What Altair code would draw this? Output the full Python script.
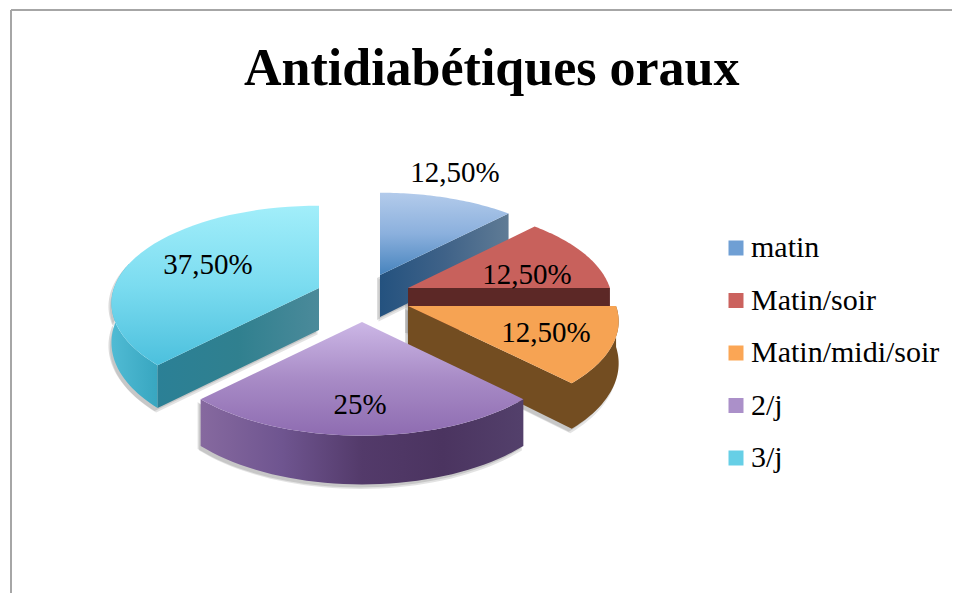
import math
import altair as alt
import pandas as pd

TITLE = "Antidiabétiques oraux"
categories = ["matin", "Matin/soir", "Matin/midi/soir", "2/j", "3/j"]
shares = [12.5, 12.5, 12.5, 25.0, 37.5]
labels = ["12,50%", "12,50%", "12,50%", "25%", "37,50%"]
legend_colors = ["#6f9fd4", "#cb625e", "#fba655", "#ab90c9", "#66cfe6"]

# 3D projection of the exploded pie
RX, RY, PERSP, DEPTH = 205.0, 98.0, 0.16, 42.0
APEX = {"matin": (380, 275), "Matin/soir": (408, 288), "Matin/midi/soir": (408, 306),
        "2/j": (362, 322), "3/j": (319, 288)}
WIDEN = {"matin": 1.0, "Matin/soir": 0.985, "Matin/midi/soir": 1.015, "2/j": 1.0, "3/j": 1.0}
RIM_DEPTH = {"matin": 45.0, "Matin/soir": 42.0, "Matin/midi/soir": 41.0, "2/j": 42.0, "3/j": 38.5}
LABEL_AT = {"matin": (455, 173), "Matin/soir": (527, 275), "Matin/midi/soir": (546, 333),
            "2/j": (360, 405), "3/j": (208, 265)}

bounds = {}
acc = 0.0
for c, s in zip(categories, shares):
    bounds[c] = (acc * 3.6, (acc + s) * 3.6)
    acc += s


def rim(cat, deg, down=False):
    cx, cy = APEX[cat]
    t = math.radians(deg)
    u, v = math.sin(t), -math.cos(t)
    k = 1 + PERSP * v
    return (cx + RX * WIDEN[cat] * u * k, cy + RY * v * k + (RIM_DEPTH[cat] * k if down else 0))


def arc(cat, a0, a1, down=False, n=40):
    return [rim(cat, a0 + (a1 - a0) * i / n, down) for i in range(n + 1)]


def top(cat):
    a0, a1 = bounds[cat]
    return [APEX[cat]] + arc(cat, a0, a1)


def cut(cat, deg):
    cx, cy = APEX[cat]
    return [(cx, cy), rim(cat, deg), rim(cat, deg, True), (cx, cy + DEPTH)]


def outer(cat, a0, a1):
    return arc(cat, a0, a1) + arc(cat, a1, a0, True)


def grad(stops, horizontal=False):
    n = len(stops) - 1
    return alt.Gradient(
        gradient="linear",
        x1=0, y1=0, x2=1 if horizontal else 0, y2=0 if horizontal else 1,
        stops=[alt.GradientStop(offset=i / n, color=c) for i, c in enumerate(stops)],
    )


W, H = 944, 585
X = alt.Scale(domain=[8, 8 + W], range=[0, W])
Y = alt.Scale(domain=[8, 8 + H], range=[0, H])


def poly(pts, fill, opacity=1.0, dx=0, dy=0):
    df = pd.DataFrame({"x": [p[0] + dx for p in pts], "y": [p[1] + dy for p in pts],
                       "i": range(len(pts))})
    return alt.Chart(df).mark_line(fill=fill, stroke=None, strokeWidth=0, fillOpacity=opacity,
                                   clip=False).encode(
        x=alt.X("x:Q", scale=X, axis=None),
        y=alt.Y("y:Q", scale=Y, axis=None),
        order="i:Q",
    )


def shadow(pts):
    return [poly(pts, "#808080", 0.28, -3, 3), poly(pts, "#808080", 0.22, -1.5, 4.5)]


matin, soir, midi, deux, trois = categories
m_cut = cut(matin, 45)
s_cut = cut(soir, 90)
o_side = [APEX[midi]] + arc(midi, 135, 90) + arc(midi, 90, 135, True) + [
    (APEX[midi][0], APEX[midi][1] + DEPTH)]
p_out = outer(deux, 135, 225)
t_cut = cut(trois, 225)
t_out = outer(trois, 225, 285)

layers = []
layers += [
    alt.Chart(pd.DataFrame({"k": [0]})).mark_rule(color="#a6a6a6", strokeWidth=2).encode(
        x=alt.value(3), y=alt.value(2), y2=alt.value(H)),
    alt.Chart(pd.DataFrame({"k": [0]})).mark_rule(color="#a6a6a6", strokeWidth=2).encode(
        y=alt.value(2), x=alt.value(3), x2=alt.value(W)),
]
layers += shadow(m_cut) + shadow(s_cut)
layers += [
    poly(m_cut, grad(["#24527f", "#3f6288", "#5f7b95"], True)),
    poly(top(matin), grad(["#b3cbeb", "#8bb0dd", "#4683bd"])),
    poly(s_cut, "#5c2826"),
    poly(top(soir), "#c8615c"),
]
layers += shadow(t_cut) + shadow(t_out) + [
    poly(t_out, grad(["#50bbd4", "#38a6c0"], True)),
    poly(t_cut, grad(["#2b8096", "#30808f", "#4b8a9a"], True)),
    poly(top(trois), grad(["#a2eefa", "#7bdcf0", "#4cc0dd"])),
]
layers += shadow(o_side) + [
    poly(o_side, "#734d21"),
    poly(top(midi), "#f6a353"),
]
layers += shadow(p_out) + [
    poly(p_out, grad(["#86699f", "#6f5590", "#533a6a", "#4b3460", "#53406b"], True)),
    poly(top(deux), grad(["#ccb7e6", "#a88bc6", "#8e6cb1"])),
]

label_df = pd.DataFrame({
    "x": [LABEL_AT[c][0] for c in categories],
    "y": [LABEL_AT[c][1] for c in categories],
    "t": labels,
})
layers.append(
    alt.Chart(label_df).mark_text(font="Liberation Serif", fontSize=29, color="black",
                                  align="center", baseline="middle").encode(
        x=alt.X("x:Q", scale=X, axis=None), y=alt.Y("y:Q", scale=Y, axis=None), text="t:N")
)

legend_df = pd.DataFrame({"cat": categories, "share": shares})
layers.append(
    alt.Chart(legend_df).mark_square(size=0, opacity=1).encode(
        x=alt.value(0), y=alt.value(0),
        color=alt.Color("cat:N", scale=alt.Scale(domain=categories, range=legend_colors),
                        legend=alt.Legend(
                            title=None, orient="none", legendX=710, legendY=225,
                            symbolType="square", symbolSize=225, symbolStrokeWidth=0,
                            symbolOpacity=1, symbolOffset=3,
                            labelFont="Liberation Serif", labelFontSize=30, labelColor="black",
                            labelLimit=300, rowPadding=22.5, labelOffset=0,
                        )),
    )
)

chart = alt.layer(*layers).properties(
    width=W, height=H,
    padding=0,
    autosize=alt.AutoSizeParams(type="none"),
    title=alt.TitleParams(TITLE, font="Liberation Serif", fontSize=52, fontWeight="bold",
                          color="black", anchor="start", dx=236, dy=92, frame="group"),
).configure_view(stroke=None)

chart.save("out.html", embed_options={"renderer": "svg", "actions": False})
